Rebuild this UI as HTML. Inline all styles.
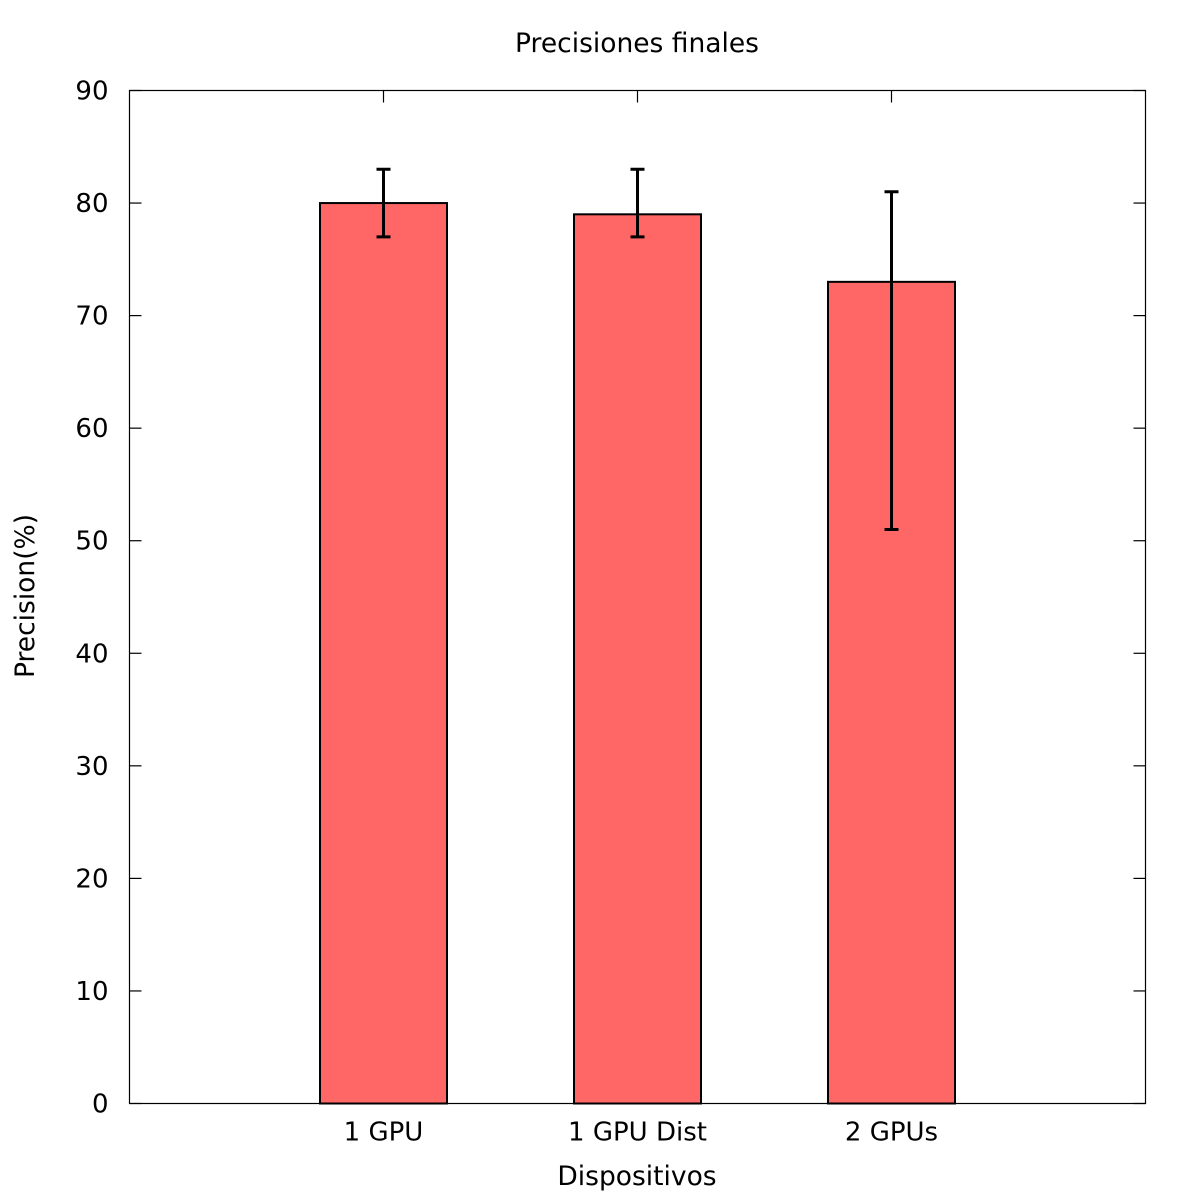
<!DOCTYPE html>
<html><head><meta charset="utf-8"><style>
html,body{margin:0;padding:0;background:#fff;}
svg{display:block;font-family:"DejaVu Sans","Liberation Sans",sans-serif;}
</style></head><body>
<svg id="chart" width="1200" height="1200">
<rect x="0" y="0" width="1200" height="1200" fill="#fff"/>
<text x="637" y="52" font-size="26.5" text-anchor="middle">Precisiones finales</text>
<text x="637" y="1185" font-size="26.5" text-anchor="middle">Dispositivos</text>
<text transform="translate(34,596) rotate(-90)" font-size="26.5" text-anchor="middle">Precision(%)</text>
<g id="marks"></g>
<rect x="129.5" y="90.5" width="1016" height="1013" fill="none" stroke="#000" stroke-width="1.2"/>
</svg>
<script>
const categories = ["1 GPU", "1 GPU Dist", "2 GPUs"];
const values = [80, 79, 73];
const errLow = [77, 77, 51];
const errHigh = [83, 83, 81];
const yTicks = [0,10,20,30,40,50,60,70,80,90];

const L=129.5,R=1145.5,T=90.5,B=1103.5;
const yMax=90;
const y=v=>B-(v/yMax)*(B-T);
const x=i=>L+(i+1)*(R-L)/(categories.length+1);
const bw=0.5*(R-L)/(categories.length+1);
const NS="http://www.w3.org/2000/svg";
const g=document.getElementById('marks');
function mk(tag,attrs){const e=document.createElementNS(NS,tag);for(const k in attrs)e.setAttribute(k,attrs[k]);g.appendChild(e);return e;}

yTicks.forEach(t=>{
  const yy=y(t);
  const a=mk('line',{x1:L,x2:L+12,y1:yy,y2:yy,stroke:'#000','stroke-width':1.2});
  
  
  const b=mk('line',{x1:R-12,x2:R,y1:yy,y2:yy,stroke:'#000','stroke-width':1.2});
  
  
  const tx=mk('text',{x:L-21,y:yy+9,'font-size':26,'text-anchor':'end'});
  tx.textContent=t;
  
  
});

categories.forEach((c,i)=>{
  const cx=x(i);
  const bar=mk('rect',{x:cx-bw/2,y:y(values[i]),width:bw,height:B-y(values[i]),fill:'#ff6666',stroke:'#000','stroke-width':2});
  
  
  const tk=mk('line',{x1:cx,x2:cx,y1:T,y2:T+12,stroke:'#000','stroke-width':1.2});
  
  
  const eb=mk('path',{d:`M${cx},${y(errLow[i])}V${y(errHigh[i])}M${cx-7},${y(errLow[i])}H${cx+7}M${cx-7},${y(errHigh[i])}H${cx+7}`,stroke:'#000','stroke-width':3,fill:'none'});
  
  
  const lb=mk('text',{x:cx,y:B+37,'font-size':26,'text-anchor':'middle'});
  lb.textContent=c;
  
  
});
</script>
</body></html>
